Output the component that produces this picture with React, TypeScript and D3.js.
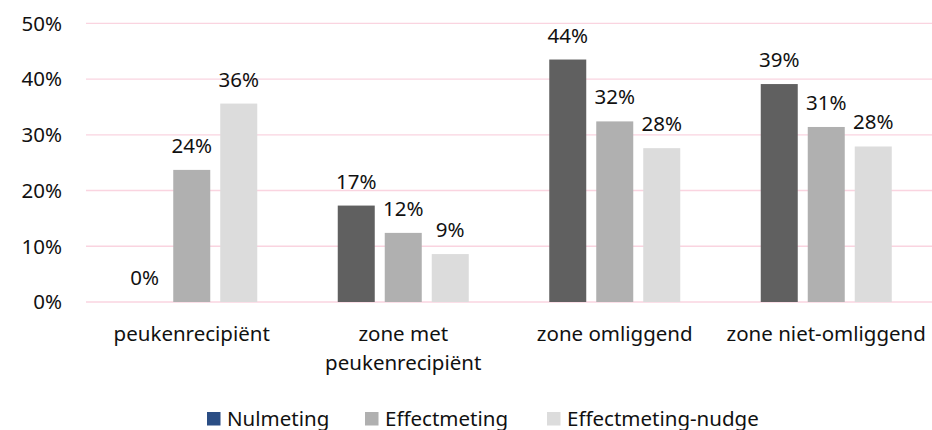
import React from "react";
import * as d3 from "d3";

const categories: string[][] = [
  ["peukenrecipiënt"],
  ["zone met", "peukenrecipiënt"],
  ["zone omliggend"],
  ["zone niet-omliggend"],
];
const seriesNames = ["Nulmeting", "Effectmeting", "Effectmeting-nudge"];
const nulmeting = [0, 17.3, 43.5, 39.1];
const effectmeting = [23.7, 12.4, 32.4, 31.4];
const effectmetingNudge = [35.6, 8.6, 27.6, 27.9];
const labelValues = [
  [0, 17, 44, 39],
  [24, 12, 32, 31],
  [36, 9, 28, 28],
];
const yTicks = [0, 10, 20, 30, 40, 50];

const barColors = ["#606060", "#b0b0b0", "#dcdcdc"];
const legendColors = ["#2a4d84", "#b0b0b0", "#dcdcdc"];

const W = 932;
const H = 430;
const FONT = "'Noto Sans', sans-serif";
const FS = 20.5;

export default function App() {
  const series = [nulmeting, effectmeting, effectmetingNudge];
  const left = 86;
  const right = 932;
  const y = d3.scaleLinear().domain([0, 50]).range([302, 23.3]);
  const x0 = d3
    .scaleBand<number>()
    .domain(categories.map((_, i) => i))
    .range([left, right])
    .padding(0);
  const bw = x0.bandwidth();
  const x1 = d3
    .scaleBand<number>()
    .domain([0, 1, 2])
    .range([bw / 2 - 70.5, bw / 2 + 70.5])
    .paddingInner(10 / 47)
    .paddingOuter(5 / 47);

  const legendX = [207, 365, 547];

  return (
    <svg
      width={W}
      height={H}
      style={{ position: "absolute", left: 0, top: 0, background: "#fff" }}
      fontFamily={FONT}
    >
      {yTicks.map((t) => (
        <g key={t}>
          <line x1={left} x2={right} y1={y(t)} y2={y(t)} stroke="#fad4e0" strokeWidth={1.3} />
          <text x={62} y={y(t)} dy="0.36em" textAnchor="end" fontSize={FS} fill="#111">
            {t}%
          </text>
        </g>
      ))}
      {categories.map((cat, ci) => (
        <g key={ci} transform={`translate(${x0(ci)},0)`}>
          {series.map((s, si) => {
            const v = s[ci];
            const bx = x1(si)!;
            return (
              <g key={si}>
                {v > 0 && (
                  <rect
                    x={bx}
                    y={y(v)}
                    width={x1.bandwidth()}
                    height={y(0) - y(v)}
                    fill={barColors[si]}
                  />
                )}
                <text
                  x={bx + x1.bandwidth() / 2}
                  y={y(v) - 17}
                  textAnchor="middle"
                  fontSize={FS}
                  fill="#111"
                >
                  {labelValues[si][ci]}%
                </text>
              </g>
            );
          })}
          {cat.map((line, li) => (
            <text
              key={li}
              x={bw / 2}
              y={341 + li * 29}
              textAnchor="middle"
              fontSize={FS}
              fill="#111"
            >
              {line}
            </text>
          ))}
        </g>
      ))}
      {seriesNames.map((n, i) => (
        <g key={n}>
          <rect x={legendX[i]} y={412} width={13.5} height={13.5} fill={legendColors[i]} />
          <text x={legendX[i] + 20} y={425.5} fontSize={FS} fill="#111">
            {n}
          </text>
        </g>
      ))}
    </svg>
  );
}
